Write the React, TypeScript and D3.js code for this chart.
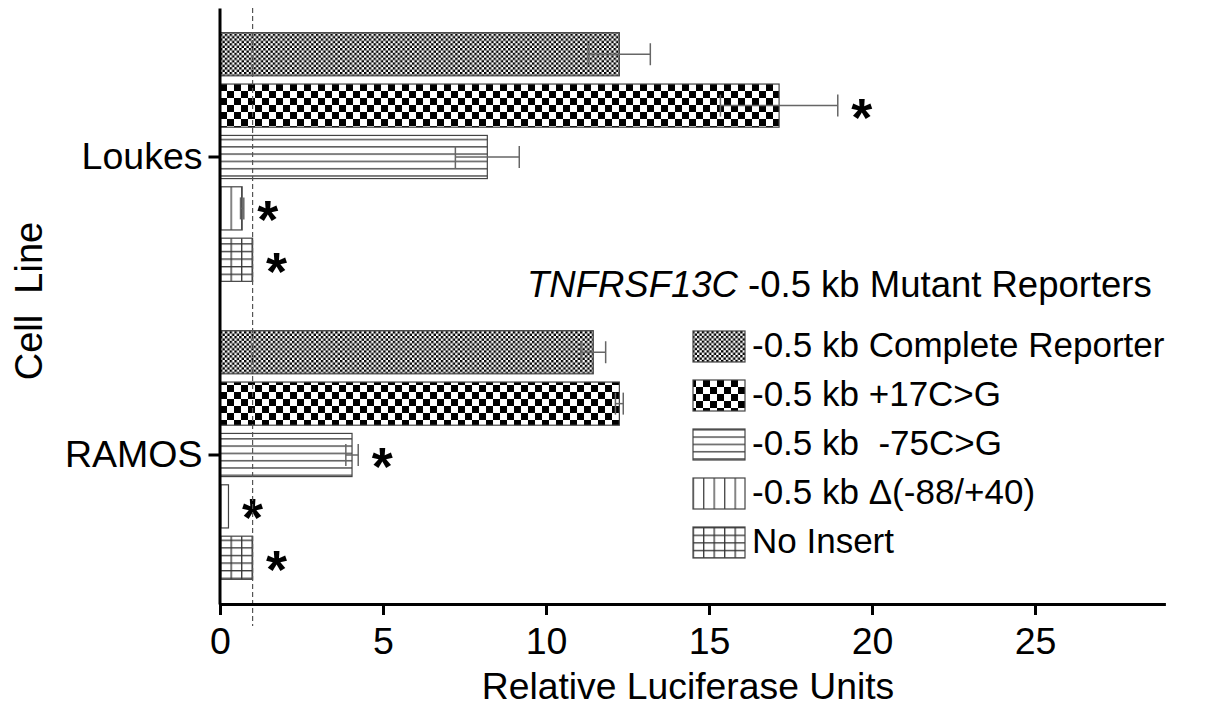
import React, { useRef, useEffect } from "react";
import { select, scaleLinear, scaleBand, axisBottom, axisLeft } from "d3";

const cellLines = ["Loukes", "RAMOS"];
const reporters = [
  "-0.5 kb Complete Reporter",
  "-0.5 kb +17C>G",
  "-0.5 kb  -75C>G",
  "-0.5 kb \u0394(-88/+40)",
  "No Insert",
];
const loukesValues = [12.25, 17.15, 8.2, 0.68, 1.0];
const loukesErrors = [0.95, 1.8, 0.98, 0.05, 0];
const loukesStars = [false, true, false, true, true];
const ramosValues = [11.45, 12.25, 4.05, 0.26, 1.0];
const ramosErrors = [0.38, 0.12, 0.19, 0, 0];
const ramosStars = [false, false, true, true, true];
const xTicks = [0, 5, 10, 15, 20, 25];
const baseline = 1;

const FONT = "'Liberation Sans', Arial, Helvetica, sans-serif";
const patternIds = ["fineCheck", "coarseCheck", "hLines", "vLines", "grid"];

function App() {
  const svgRef = useRef(null);

  useEffect(() => {
    const svg = select(svgRef.current);
    svg.selectAll("*").remove();

    // patterns
    const defs = svg.append("defs");
    const checker = (id, cell) => {
      const p = defs
        .append("pattern")
        .attr("id", id)
        .attr("patternUnits", "userSpaceOnUse")
        .attr("x", 220)
        .attr("width", cell * 2)
        .attr("height", cell * 2);
      p.append("rect").attr("width", cell * 2).attr("height", cell * 2).attr("fill", "#fff");
      p.append("rect").attr("width", cell).attr("height", cell).attr("fill", "#000");
      p.append("rect").attr("x", cell).attr("y", cell).attr("width", cell).attr("height", cell).attr("fill", "#000");
    };
    checker("fineCheck", 2.4);
    checker("coarseCheck", 7);

    const hp = defs
      .append("pattern")
      .attr("id", "hLines")
      .attr("patternUnits", "userSpaceOnUse")
      .attr("width", 10)
      .attr("height", 7.3);
    hp.append("rect").attr("width", 10).attr("height", 7.3).attr("fill", "#fff");
    hp.append("line").attr("x1", 0).attr("x2", 10).attr("y1", 0.8).attr("y2", 0.8)
      .attr("stroke", "#555").attr("stroke-width", 1.5);

    const vp = defs
      .append("pattern")
      .attr("id", "vLines")
      .attr("patternUnits", "userSpaceOnUse")
      .attr("x", 220)
      .attr("width", 10.5)
      .attr("height", 10);
    vp.append("rect").attr("width", 10.5).attr("height", 10).attr("fill", "#fff");
    vp.append("line").attr("x1", 0.7).attr("x2", 0.7).attr("y1", 0).attr("y2", 10)
      .attr("stroke", "#444").attr("stroke-width", 1.3);

    const gp = defs
      .append("pattern")
      .attr("id", "grid")
      .attr("patternUnits", "userSpaceOnUse")
      .attr("x", 220)
      .attr("width", 10.5)
      .attr("height", 7.6);
    gp.append("rect").attr("width", 10.5).attr("height", 7.6).attr("fill", "#fff");
    gp.append("line").attr("x1", 0.7).attr("x2", 0.7).attr("y1", 0).attr("y2", 7.6)
      .attr("stroke", "#333").attr("stroke-width", 1.3);
    gp.append("line").attr("x1", 0).attr("x2", 10.5).attr("y1", 0.7).attr("y2", 0.7)
      .attr("stroke", "#333").attr("stroke-width", 1.3);

    // scales
    const xScale = scaleLinear().domain([0, 29]).range([220, 1165.4]);
    const yScale = scaleBand().domain(cellLines).range([8, 604]);
    const inner = scaleBand()
      .domain(reporters)
      .range([0, yScale.bandwidth()])
      .paddingInner(0.16)
      .paddingOuter(0.48);

    const groups = [
      { name: "Loukes", values: loukesValues, errors: loukesErrors, stars: loukesStars },
      { name: "RAMOS", values: ramosValues, errors: ramosErrors, stars: ramosStars },
    ];
    const rows = groups.flatMap((g) =>
      reporters.map((r, i) => ({
        cell: g.name,
        reporter: r,
        idx: i,
        value: g.values[i],
        err: g.errors[i],
        star: g.stars[i],
      }))
    );
    const yOf = (d) => yScale(d.cell) + inner(d.reporter);
    const bh = inner.bandwidth();

    const content = svg.append("g").attr("class", "content");

    content
      .selectAll(".bar")
      .data(rows)
      .join("rect")
      .attr("class", "bar")
      .attr("x", xScale(0))
      .attr("y", yOf)
      .attr("width", (d) => xScale(d.value) - xScale(0))
      .attr("height", bh)
      .attr("fill", (d) => `url(#${patternIds[d.idx]})`)
      .attr("stroke", "#444")
      .attr("stroke-width", 1.2);

    // error bars
    const errs = content
      .selectAll(".err")
      .data(rows.filter((d) => d.err > 0))
      .join("g")
      .attr("class", "err")
      .attr("stroke", "#666")
      .attr("stroke-width", 1.5);
    errs.append("line")
      .attr("x1", (d) => xScale(d.value - d.err))
      .attr("x2", (d) => xScale(d.value + d.err))
      .attr("y1", (d) => yOf(d) + bh / 2)
      .attr("y2", (d) => yOf(d) + bh / 2);
    [-1, 1].forEach((s) => {
      errs.append("line")
        .attr("x1", (d) => xScale(d.value + s * d.err))
        .attr("x2", (d) => xScale(d.value + s * d.err))
        .attr("y1", (d) => yOf(d) + bh / 2 - 11)
        .attr("y2", (d) => yOf(d) + bh / 2 + 11);
    });

    // significance stars
    content
      .selectAll(".star")
      .data(rows.filter((d) => d.star))
      .join("text")
      .attr("class", "star")
      .attr("x", (d) => xScale(d.value + d.err) + 24)
      .attr("y", (d) => yOf(d) + bh / 2 + 30)
      .attr("text-anchor", "middle")
      .attr("font-family", FONT)
      .attr("font-weight", "bold")
      .attr("font-size", 54)
      .text("*");

    // reference line at 1
    svg.append("line")
      .attr("x1", xScale(baseline))
      .attr("x2", xScale(baseline))
      .attr("y1", 8)
      .attr("y2", 626)
      .attr("stroke", "#555")
      .attr("stroke-width", 1.2)
      .attr("stroke-dasharray", "5,3");

    // axes
    const xAxis = axisBottom(xScale).tickValues(xTicks).tickSize(11).tickSizeOuter(0).tickPadding(12);
    const gx = svg.append("g").attr("transform", "translate(0,604)").call(xAxis);
    const yAxis = axisLeft(yScale).tickSize(11).tickSizeOuter(0).tickPadding(6);
    const gy = svg.append("g").attr("transform", "translate(219.5,0)").call(yAxis);
    [gx, gy].forEach((g) => {
      g.select(".domain").attr("stroke", "#000").attr("stroke-width", 3);
      g.selectAll(".tick line").attr("stroke", "#000").attr("stroke-width", 3);
      g.selectAll(".tick text")
        .attr("fill", "#000")
        .attr("font-family", FONT)
        .attr("font-size", 37.5);
    });

    svg.append("text")
      .attr("x", 688)
      .attr("y", 699)
      .attr("text-anchor", "middle")
      .attr("font-family", FONT)
      .attr("font-size", 37.3)
      .text("Relative Luciferase Units");

    svg.append("text")
      .attr("transform", "translate(42,301) rotate(-90)")
      .attr("text-anchor", "middle")
      .attr("font-family", FONT)
      .attr("font-size", 38)
      .style("white-space", "pre")
      .text("Cell  Line");

    // legend
    const legend = svg.append("g").attr("font-family", FONT).attr("font-size", 35);
    const title = legend
      .append("text")
      .attr("x", 527)
      .attr("y", 297)
      .attr("font-size", 36.5)
      .style("white-space", "pre");
    title.append("tspan").attr("font-style", "italic").text("TNFRSF13C");
    title.append("tspan").text(" -0.5 kb Mutant Reporters");

    const items = legend
      .selectAll(".item")
      .data(reporters)
      .join("g")
      .attr("class", "item")
      .attr("transform", (d, i) => `translate(693,${331 + i * 49})`);
    items.append("rect")
      .attr("width", 52)
      .attr("height", 31)
      .attr("fill", (d, i) => `url(#${patternIds[i]})`)
      .attr("stroke", "#444")
      .attr("stroke-width", 1.2);
    items.append("text")
      .attr("x", 59)
      .attr("y", 26)
      .style("white-space", "pre")
      .text((d) => d);
  }, []);

  return (
    <svg
      ref={svgRef}
      width={1212}
      height={709}
      style={{ position: "absolute", left: 0, top: 0, background: "#fff" }}
    />
  );
}

export default App;
